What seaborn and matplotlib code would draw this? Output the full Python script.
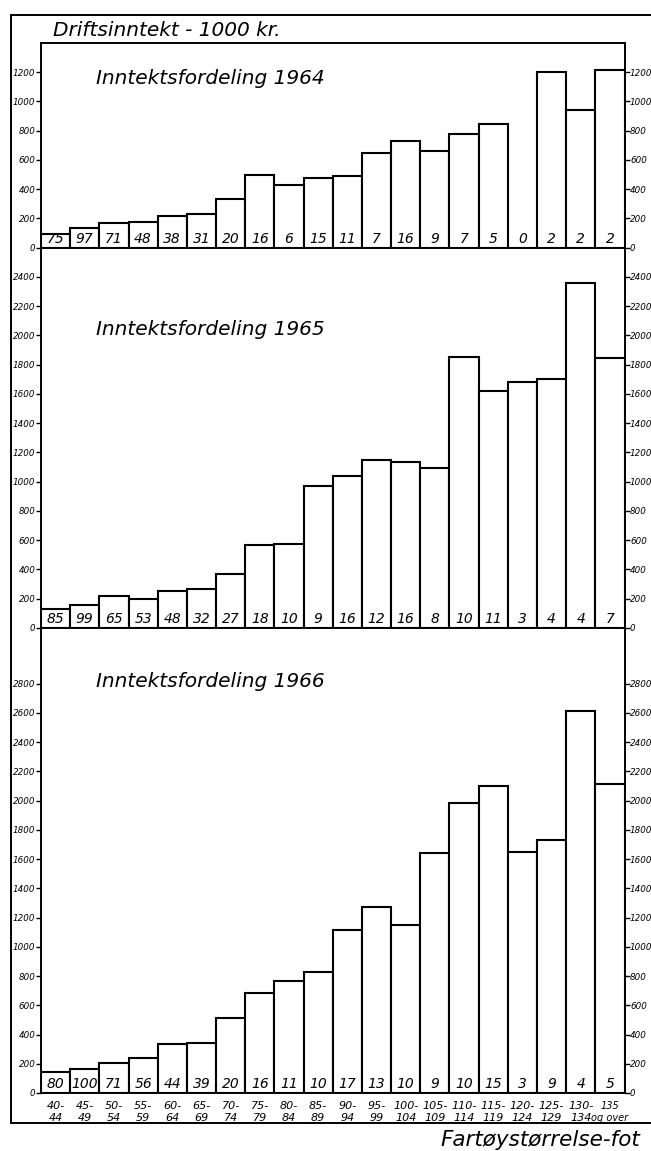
# %%
import numpy as np
import pandas as pd
import seaborn as sns
import matplotlib.pyplot as plt
from matplotlib.lines import Line2D

# %%
# Fartøystørrelse (fot) og driftsinntekt (1000 kr), lest av figuren
storrelse = ['40-\n44', '45-\n49', '50-\n54', '55-\n59', '60-\n64', '65-\n69',
             '70-\n74', '75-\n79', '80-\n84', '85-\n89', '90-\n94', '95-\n99',
             '100-\n104', '105-\n109', '110-\n114', '115-\n119', '120-\n124',
             '125-\n129', '130-\n134', '135\nog over']

inntekt_1964 = [91, 133, 168, 177, 215, 233, 334, 494, 432, 475, 489, 649,
                729, 663, 775, 846, 0, 1205, 944, 1216]
antall_1964 = [75, 97, 71, 48, 38, 31, 20, 16, 6, 15, 11, 7, 16, 9, 7, 5, 0, 2, 2, 2]

inntekt_1965 = [130, 160, 217, 198, 256, 269, 367, 564, 577, 974, 1036, 1148,
                1136, 1091, 1850, 1622, 1682, 1704, 2361, 1846]
antall_1965 = [85, 99, 65, 53, 48, 32, 27, 18, 10, 9, 16, 12, 16, 8, 10, 11, 3, 4, 4, 7]

inntekt_1966 = [143, 164, 208, 240, 332, 345, 511, 686, 765, 825, 1112, 1271,
                1147, 1641, 1983, 2099, 1651, 1731, 2610, 2115]
antall_1966 = [80, 100, 71, 56, 44, 39, 20, 16, 11, 10, 17, 13, 10, 9, 10, 15, 3, 9, 4, 5]

aar = ['1964', '1965', '1966']
inntekter = [inntekt_1964, inntekt_1965, inntekt_1966]
antall = [antall_1964, antall_1965, antall_1966]
ymax = [1400, 2600, 3180]
ytop_tick = [1200, 2400, 2800]
tittel_y = [0.80, 0.771, 0.873]

# %%
sns.set_style('white')
plt.rcParams['font.family'] = ['DejaVu Sans']
plt.rcParams['font.style'] = 'italic'
plt.rcParams['text.color'] = 'black'
plt.rcParams['xtick.color'] = 'black'
plt.rcParams['ytick.color'] = 'black'

fig = plt.figure(figsize=(6.51, 11.51), dpi=100)
gs = fig.add_gridspec(3, 1, height_ratios=ymax, hspace=0,
                      left=41 / 651, right=624.5 / 651,
                      top=1 - 43 / 1151, bottom=1 - 1093 / 1151)

for k in range(3):
    ax = fig.add_subplot(gs[k])
    df = pd.DataFrame({'Størrelse': storrelse, 'Inntekt': inntekter[k]})
    sns.barplot(data=df, x='Størrelse', y='Inntekt', color='white', saturation=1,
                edgecolor='black', linewidth=1.5, width=1.0, ax=ax)
    ax.set_xlim(-0.5, len(storrelse) - 0.5)
    ax.set_ylim(0, ymax[k])
    ax.set_yticks(np.arange(0, ytop_tick[k] + 1, 200))
    ax.tick_params(axis='y', left=True, right=True, labelleft=True, labelright=True,
                   length=3.5, width=1, pad=0.5, labelsize=6.3)
    ax.set_xlabel(None)
    ax.set_ylabel(None)
    for s in ax.spines.values():
        s.set_color('black')
        s.set_linewidth(1.4)

    # antall fartøy i hver gruppe
    for i, n in enumerate(antall[k]):
        ax.annotate(str(n), (i, 0), xytext=(0, 3.5), textcoords='offset points',
                    ha='center', va='baseline', fontsize=10)

    ax.text(0.095, tittel_y[k], 'Inntektsfordeling ' + aar[k], transform=ax.transAxes,
            fontsize=14.5, va='baseline', ha='left')

    if k < 2:
        ax.tick_params(axis='x', bottom=False, labelbottom=False)
    else:
        ax.tick_params(axis='x', bottom=False, labelsize=8, pad=2)
        labs = ax.get_xticklabels()
        for lab in labs:
            lab.set_linespacing(1.3)
        labs[-1].set_fontsize(7)
        labs[-1].set_x(labs[-1].get_position()[0])

# ytre ramme
fig.add_artist(Line2D([11 / 651, 11 / 651], [1 - 15 / 1151, 1 - 1123 / 1151],
                      transform=fig.transFigure, color='black', lw=1.4))
fig.add_artist(Line2D([11 / 651, 1.0], [1 - 15 / 1151, 1 - 15 / 1151],
                      transform=fig.transFigure, color='black', lw=1.4))
fig.add_artist(Line2D([11 / 651, 1.0], [1 - 1123 / 1151, 1 - 1123 / 1151],
                      transform=fig.transFigure, color='black', lw=1.4))

fig.text(53 / 651, 1 - 36 / 1151, 'Driftsinntekt - 1000 kr.', fontsize=14.5,
         ha='left', va='baseline')
fig.text(640 / 651, 1 - 1146 / 1151, 'Fartøystørrelse-fot', fontsize=15.5,
         ha='right', va='baseline')

plt.savefig('out.png', dpi=100)
